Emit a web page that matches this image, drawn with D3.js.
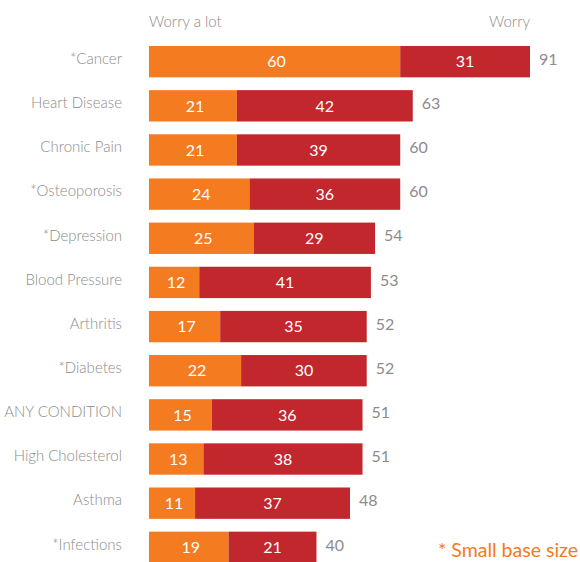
<!DOCTYPE html>
<html>
<head>
<meta charset="utf-8">
<script src="https://cdn.jsdelivr.net/npm/d3@7"></script>
<style>
  html, body { margin: 0; padding: 0; background: #fff; }
  svg { display: block; font-family: Lato, "Open Sans", sans-serif; }
</style>
</head>
<body>
<svg id="chart" width="580" height="562"></svg>
<script>
// Health worries: share who "worry a lot" and who "worry", stacked per condition
const conditions = ["*Cancer", "Heart Disease", "Chronic Pain", "*Osteoporosis", "*Depression",
  "Blood Pressure", "Arthritis", "*Diabetes", "ANY CONDITION", "High Cholesterol", "Asthma", "*Infections"];
const worryALot = [60, 21, 21, 24, 25, 12, 17, 22, 15, 13, 11, 19];
const worry     = [31, 42, 39, 36, 29, 41, 35, 30, 36, 38, 37, 21];
const totals    = [91, 63, 60, 60, 54, 53, 52, 52, 51, 51, 48, 40];
const seriesNames = ["Worry a lot", "Worry"];

const ORANGE = "#f47b20", RED = "#c1272d", GREY = "#8c8c8c";

const svg = d3.select("#chart");
const left = 149;

const x = d3.scaleLinear().domain([0, 91]).range([left, 530]);
const y = d3.scaleBand().domain(conditions).range([46, 563]).paddingInner(0.29).paddingOuter(0);

const rows = conditions.map((c, i) => ({ c, a: worryALot[i], b: worry[i], t: totals[i] }));

// Series headers
svg.append("text").attr("x", left).attr("y", 27)
  .attr("font-size", 15).attr("fill", GREY).attr("font-weight", 300).text(seriesNames[0]);
svg.append("text").attr("x", 530).attr("y", 27).attr("text-anchor", "end")
  .attr("font-size", 15).attr("fill", GREY).attr("font-weight", 300).text(seriesNames[1]);

const g = svg.append("g");
const row = g.selectAll("g.row").data(rows).join("g").attr("class", "row");

row.append("rect")
  .attr("x", x(0)).attr("y", d => y(d.c))
  .attr("width", d => x(d.a) - x(0)).attr("height", y.bandwidth())
  .attr("fill", ORANGE);

row.append("rect")
  .attr("x", d => x(d.a)).attr("y", d => y(d.c))
  .attr("width", d => x(d.a + d.b) - x(d.a)).attr("height", y.bandwidth())
  .attr("fill", RED);

const mid = d => y(d.c) + y.bandwidth() / 2;

row.append("text")
  .attr("x", d => (x(0) + x(d.a)) / 2 + 2).attr("y", mid).attr("dy", "0.36em")
  .attr("text-anchor", "middle").attr("fill", "#fff").attr("font-size", 16)
  .text(d => d.a);

row.append("text")
  .attr("x", d => (x(d.a) + x(d.a + d.b)) / 2).attr("y", mid).attr("dy", "0.36em")
  .attr("text-anchor", "middle").attr("fill", "#fff").attr("font-size", 16)
  .text(d => d.b);

row.append("text")
  .attr("x", d => x(d.t) + 9).attr("y", mid).attr("dy", "0.2em")
  .attr("fill", GREY).attr("font-size", 16)
  .text(d => d.t);

row.append("text")
  .attr("x", 122).attr("y", mid).attr("dy", "0.15em")
  .attr("text-anchor", "end").attr("fill", GREY).attr("font-size", 15).attr("font-weight", 300)
  .text(d => d.c);

// Footnote
svg.append("text").attr("x", 578).attr("y", 557).attr("text-anchor", "end")
  .attr("fill", ORANGE).attr("font-size", 19.5).text("* Small base size");
</script>
</body>
</html>
